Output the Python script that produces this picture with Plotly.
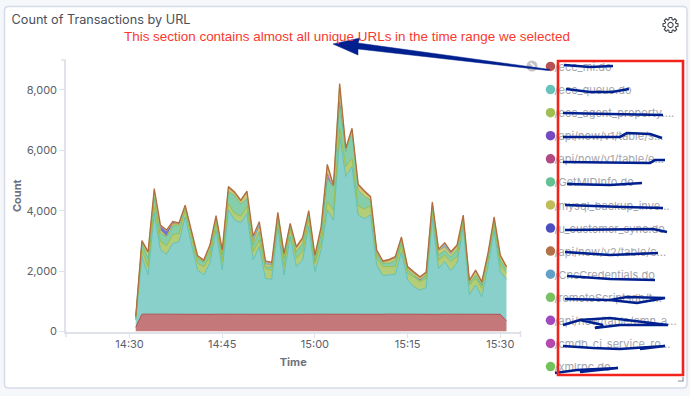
import math
import pandas as pd
import plotly.graph_objects as go

W, H = 690, 396

# ---------- data (one value per minute, 14:31 .. 15:31) ----------
times = pd.date_range("2020-01-01 14:31", periods=61, freq="min")

ecc_mi = [140,570,575,570,572,568,570,572,570,565,572,570,568,572,570,575,572,570,572,568,570,565,560,568,570,572,570,568,572,570,572,570,568,572,575,570,568,572,570,572,570,575,572,568,570,565,570,572,560,568,572,570,575,570,572,570,568,570,565,570,350]
ecc_queue = [240,1910,1300,3340,2130,1990,2350,2400,3230,2400,1470,1300,1690,2790,1470,3450,3120,3030,3340,1800,2240,1190,1170,2900,1300,2570,1580,1800,2900,1410,2130,3450,3120,5880,4560,4890,3290,3160,3290,1630,1280,1300,1320,2070,1140,915,800,880,3180,1520,1740,1445,1690,2900,640,970,585,1580,2790,1410,1380]
ecc_agent = [50,220,275,220,275,285,275,275,220,220,220,275,220,220,275,200,220,220,220,275,220,330,300,220,275,275,275,275,220,275,220,275,330,275,330,275,300,320,300,220,300,275,255,220,220,330,275,310,220,275,220,300,220,165,330,220,275,220,220,220,220]
get_mid = [30,220,275,330,275,300,300,275,110,110,165,145,220,165,220,410,600,400,275,220,275,55,110,110,275,55,220,275,165,110,330,770,770,880,500,940,530,420,200,165,110,110,200,165,110,55,55,110,220,165,165,165,220,110,55,110,110,110,110,165,90]
api_v1_s = [15,0,0,0,0,0,0,0,0,0,0,0,0,0,0,0,0,0,0,0,0,0,0,0,0,0,0,0,0,0,0,95,0,55,0,0,0,0,0,0,0,0,0,0,0,0,0,0,0,0,0,0,0,0,0,0,0,0,0,0,0]
api_v1_e = [0,0,0,0,0,0,0,0,0,0,0,0,0,0,0,0,0,0,0,0,0,0,0,0,0,0,0,0,0,0,0,130,0,120,0,0,0,0,0,0,0,0,0,0,0,0,30,0,0,0,0,0,0,0,0,0,25,0,0,0,0]
mysql_backup = [5,45,175,190,100,5,60,30,10,10,45,30,120,45,120,120,65,85,195,110,180,95,50,100,120,65,120,145,100,120,175,200,10,380,65,10,145,145,65,65,30,85,85,65,65,65,40,55,65,155,100,90,120,65,55,120,45,65,65,120,65]
u_customer = [0,0,0,40,130,170,40,0,0,0,0,0,0,0,0,0,0,0,0,0,0,0,0,0,0,0,0,0,0,0,0,0,0,0,0,0,0,0,0,0,0,0,0,0,0,0,0,0,0,0,0,0,0,0,0,0,0,0,0,0,0]
cred = [0,0,0,0,0,0,0,0,0,0,0,0,0,0,0,0,0,0,0,145,105,60,50,0,0,0,0,0,0,0,0,0,0,0,0,0,0,0,0,0,0,0,0,0,0,0,0,0,0,0,95,30,0,0,0,0,0,0,0,0,0]
api_v2 = [20,45,45,45,45,45,45,45,45,45,45,45,45,45,45,45,45,45,45,45,45,45,45,45,45,45,45,45,45,45,45,45,45,45,45,45,45,45,45,45,45,45,45,45,45,45,45,45,45,45,45,45,45,45,45,45,45,45,45,45,45]

# name, values, colour, outline width
stack_series = [
    ("/ecc_mi.do", ecc_mi, "#B0494B", 1),
    ("/ecc_queue.do", ecc_queue, "#5FBFB6", 1),
    ("/ecc_agent_property....", ecc_agent, "#9ABC4A", 1),
    ("/GetMIDInfo.do", get_mid, "#5BBD8B", 1),
    ("/api/now/v1/table/s...", api_v1_s, "#6E3FBF", 0),
    ("/api/now/v1/table/e...", api_v1_e, "#AF3F7C", 0),
    ("/mysql_backup_inve...", mysql_backup, "#BDB84E", 1),
    ("/u_customer_sync.do", u_customer, "#4146BE", 0),
    ("/CncCredentials.do", cred, "#5A9BC4", 0),
    ("/api/now/v2/table/c...", api_v2, "#B0693E", 1.3),
]

legend_labels = ["/ecc_mi.do", "/ecc_queue.do", "/ecc_agent_property....", "/api/now/v1/table/s...",
                 "/api/now/v1/table/e...", "/GetMIDInfo.do", "/mysql_backup_inve...", "/u_customer_sync.do",
                 "/api/now/v2/table/c...", "/CncCredentials.do", "/remoteScriptsdb/t...", "/api/now/table/cmn_a...",
                 "/cmdb_ci_service_ro...", "/xmlrpc.do"]
legend_colors = ["#B0494B", "#5FBFB6", "#9ABC4A", "#6E3FBF", "#AF3F7C", "#5BBD8B", "#BDB84E", "#4146BE",
                 "#B0693E", "#5A9BC4", "#72BE5A", "#9E3FBA", "#B23FAB", "#6DBF52"]

x_ticks = ["2020-01-01 14:30", "2020-01-01 14:45", "2020-01-01 15:00", "2020-01-01 15:15", "2020-01-01 15:30"]
x_tick_text = ["14:30", "14:45", "15:00", "15:15", "15:30"]
y_ticks = [0, 2000, 4000, 6000, 8000]
x_range = ["2020-01-01 14:19:43", "2020-01-01 15:33:16"]
y_range = [0, 8990]

# hand-drawn strokes over the legend, in picture pixels
scribbles = [
    [(564, 65), (590, 67), (613, 66)],
    [(566, 89), (590, 92), (612, 92), (629, 89)],
    [(563, 113), (610, 114), (663, 115)],
    [(563, 137), (620, 137), (627, 133), (650, 134), (662, 138)],
    [(563, 162), (650, 163), (655, 160), (665, 160)],
    [(567, 184), (610, 185), (642, 183)],
    [(565, 205), (623, 207), (663, 208)],
    [(565, 230), (653, 229), (667, 232)],
    [(565, 252), (610, 255), (658, 253)],
    [(567, 276), (610, 279), (655, 280)],
    [(565, 299), (610, 300), (627, 297), (665, 298), (637, 303), (610, 300)],
    [(563, 325), (580, 320), (610, 318), (668, 325), (620, 325), (595, 328), (603, 325), (580, 320)],
    [(563, 346), (593, 348), (620, 349), (665, 346), (640, 349)],
    [(555, 373), (577, 370), (618, 368), (580, 372)],
]

# ---------- helpers for overlay drawing in pixel space ----------
def fx(px):
    return px / W

def fy(py):
    return 1 - py / H

def path(points, close=False):
    s = "M" + " L".join(f"{fx(x):.5f},{fy(y):.5f}" for x, y in points)
    return s + (" Z" if close else "")

def rgba(hex_color, a):
    h = hex_color.lstrip("#")
    return f"rgba({int(h[:2],16)},{int(h[2:4],16)},{int(h[4:],16)},{a})"

fig = go.Figure()

for name, vals, col, lw in stack_series:
    fig.add_trace(go.Scatter(
        x=times, y=vals, name=name, mode="lines", stackgroup="one",
        line=dict(color=rgba(col, 0.95), width=lw), fillcolor=rgba(col, 0.74),
        showlegend=False, xaxis="x", yaxis="y",
    ))

# legend column, drawn on its own axes
fig.add_trace(go.Scatter(
    x=[0] * len(legend_labels), y=list(range(len(legend_labels))),
    mode="markers", marker=dict(size=9.5, color=legend_colors, opacity=0.95),
    showlegend=False, xaxis="x2", yaxis="y2", cliponaxis=False,
))
fig.add_trace(go.Scatter(
    x=[4] * len(legend_labels), y=[i + 0.08 for i in range(len(legend_labels))],
    mode="text", text=legend_labels, textposition="middle right",
    textfont=dict(family="Inter", size=11, color="#a3a6ad"),
    showlegend=False, xaxis="x2", yaxis="y2", cliponaxis=False,
))

NAVY = "#00208f"
for s in scribbles:
    fig.add_trace(go.Scatter(
        x=[p[0] for p in s], y=[p[1] for p in s], mode="lines",
        line=dict(color=NAVY, width=2.7, simplify=False),
        showlegend=False, hoverinfo="skip", xaxis="x3", yaxis="y3", cliponaxis=False,
    ))

GRID = "#dfe2e8"
TXT = "#5b606b"
fig.update_layout(
    width=W, height=H, margin=dict(l=0, r=0, t=0, b=0), autosize=False,
    paper_bgcolor="#f5f7fb", plot_bgcolor="rgba(0,0,0,0)", showlegend=False,
    font=dict(family="Inter", color=TXT, size=11),
    title=dict(text="Count of Transactions by URL", xref="paper", yref="paper",
               x=fx(11.5), xanchor="left", y=fy(20), yanchor="middle",
               font=dict(family="Inter", size=12.7, color="#4a4f5a")),
    xaxis=dict(domain=[fx(66), fx(520.5)], range=x_range, type="date",
               tickmode="array", tickvals=x_ticks, ticktext=x_tick_text,
               ticks="outside", ticklen=5, tickcolor=GRID, showgrid=False, zeroline=False,
               showline=True, linecolor=GRID, linewidth=1.5, tickfont=dict(size=11, color=TXT),
               ticklabelstandoff=-3, anchor="y", automargin=False,
               title=dict(text="<b>Time</b>", font=dict(size=11, color="#6d727d"), standoff=8)),
    yaxis=dict(domain=[fy(331.5), fy(60)], range=y_range,
               tickmode="array", tickvals=y_ticks, tickformat=",d",
               ticks="outside", ticklen=5, tickcolor=GRID, showgrid=False, zeroline=False,
               showline=True, linecolor=GRID, linewidth=1.5, tickfont=dict(size=11, color=TXT),
               anchor="x", automargin=False,
               title=dict(text="<b>Count</b>", font=dict(size=11, color="#6d727d"), standoff=3)),
    xaxis2=dict(domain=[fx(540), fx(690)], range=[-10.5, 139.5], visible=False, anchor="y2"),
    yaxis2=dict(domain=[fy(377.6), fy(55.4)], range=[13.48, -0.48], visible=False, anchor="x2"),
    xaxis3=dict(domain=[0, 1], range=[0, W], visible=False, anchor="y3"),
    yaxis3=dict(domain=[0, 1], range=[H, 0], visible=False, anchor="x3"),
)

# ---------- page card and furniture ----------
shapes = []
R = 4
cx0, cy0, cx1, cy1 = 4.5, 6.5, 687, 388
card = (f"M{fx(cx0+R):.5f},{fy(cy0):.5f} L{fx(cx1-R):.5f},{fy(cy0):.5f} "
        f"Q{fx(cx1):.5f},{fy(cy0):.5f} {fx(cx1):.5f},{fy(cy0+R):.5f} "
        f"L{fx(cx1):.5f},{fy(cy1-R):.5f} Q{fx(cx1):.5f},{fy(cy1):.5f} {fx(cx1-R):.5f},{fy(cy1):.5f} "
        f"L{fx(cx0+R):.5f},{fy(cy1):.5f} Q{fx(cx0):.5f},{fy(cy1):.5f} {fx(cx0):.5f},{fy(cy1-R):.5f} "
        f"L{fx(cx0):.5f},{fy(cy0+R):.5f} Q{fx(cx0):.5f},{fy(cy0):.5f} {fx(cx0+R):.5f},{fy(cy0):.5f} Z")
shapes.append(dict(type="path", path=card, xref="paper", yref="paper", layer="below",
                   fillcolor="#ffffff", line=dict(color="#d6dbe8", width=1.5)))

def seg(points, color, width, close=False, fill=None):
    d = dict(type="path", path=path(points, close), xref="paper", yref="paper", layer="above",
             line=dict(color=color, width=width))
    if fill:
        d["fillcolor"] = fill
    shapes.append(d)

# axis end caps
seg([(66, 331), (66, 337)], GRID, 1.5)
seg([(61, 60), (66, 60)], GRID, 1.5)
seg([(520.5, 331), (520.5, 337)], GRID, 1.5)

# gear icon
gcx, gcy = 670.5, 25
gear = []
for i in range(8):
    a = i * math.pi / 4
    for da, r in [(-0.30, 5.6), (-0.17, 7.6), (0.17, 7.6), (0.30, 5.6)]:
        gear.append((gcx + r * math.cos(a + da), gcy + r * math.sin(a + da)))
seg(gear, "#3f434c", 1.1, close=True)
ring = [(gcx + 2.6 * math.cos(i * math.pi / 10), gcy + 2.6 * math.sin(i * math.pi / 10)) for i in range(20)]
seg(ring, "#3f434c", 1.1, close=True)

# resize handle
seg([(683, 377), (683, 381), (678, 381)], "#8a8f99", 1.2)

# grey collapse icon beside the legend
shapes.append(dict(type="circle", xref="paper", yref="paper", layer="above",
                   x0=fx(526.5), x1=fx(537.5), y0=fy(60.5), y1=fy(71.5),
                   fillcolor="#c4c4c4", line=dict(width=0)))
seg([(530.5, 63), (534, 66), (530.5, 69)], "#ffffff", 1.6)

# arrow
seg([(333, 44), (360, 38), (358, 43), (550, 69.5), (548, 70.5), (358, 49), (358, 55)], NAVY, 0.5, close=True, fill=NAVY)

# red box
seg([(558, 61), (683, 61), (683, 375), (558, 375)], "#f2231a", 2.6, close=True)

fig.update_layout(shapes=shapes)
fig.add_annotation(text="This section contains almost all unique URLs in the time range we selected",
                   xref="paper", yref="paper", x=fx(122), y=fy(36), xanchor="left", yanchor="middle",
                   showarrow=False, font=dict(family="Liberation Sans", size=13.45, color="#f8392c"))

fig.write_html("out.html", config=dict(displayModeBar=False),
               post_script="document.body.style.margin='0';document.body.style.overflow='hidden';")
